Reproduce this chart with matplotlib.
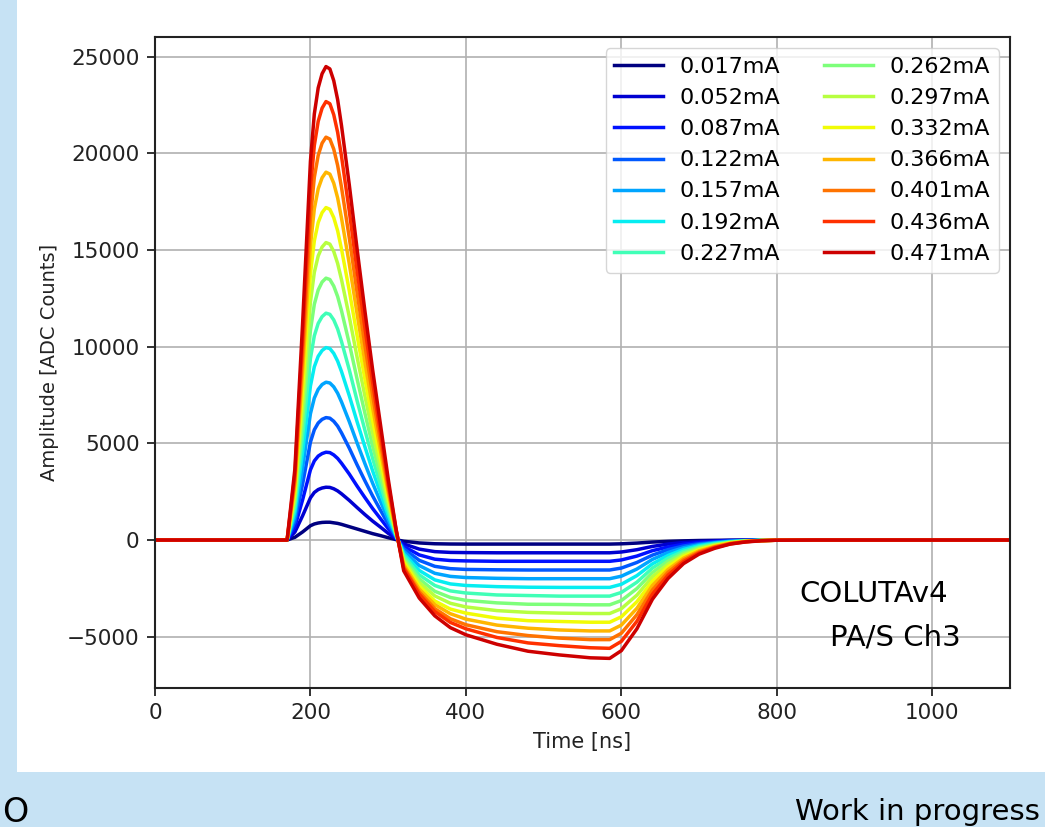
import matplotlib
matplotlib.use("Agg")
import matplotlib.pyplot as plt
import numpy as np
from matplotlib.patches import Rectangle

# sample times of the averaged pulses [ns]
time_ns = [0, 160, 170, 180, 190, 200, 205, 210, 215, 220, 225, 230, 235, 240,
           250, 260, 270, 280, 290, 300, 310,
           320, 340, 360, 380, 400, 440, 480, 520, 560, 585,
           600, 620, 640, 660, 680, 700, 720, 740, 760, 780, 800, 850, 1100]

# injected current for each pulse
currents = ["0.017mA", "0.052mA", "0.087mA", "0.122mA", "0.157mA", "0.192mA", "0.227mA",
            "0.262mA", "0.297mA", "0.332mA", "0.366mA", "0.401mA", "0.436mA", "0.471mA"]

# amplitude [ADC counts], one list per current
pulse_017 = [0, 0, 0, 140, 420, 740, 830, 880, 910, 920, 920, 890, 860, 810,
             690, 570, 450, 330, 230, 120, 20,
             -63, -151, -193, -206, -210, -210, -210, -210, -210, -210,
             -196, -158, -105, -68, -42, -25, -15, -7, -3, -1, 0, 0, 0]
pulse_052 = [0, 0, 0, 410, 1260, 2180, 2460, 2610, 2690, 2730, 2720, 2650, 2540, 2390,
             2050, 1680, 1320, 980, 670, 350, 70,
             -200, -470, -600, -640, -650, -660, -660, -660, -660, -660,
             -620, -500, -330, -210, -130, -80, -50, -20, -10, 0, 0, 0, 0]
pulse_087 = [0, 0, 0, 680, 2090, 3630, 4090, 4340, 4470, 4540, 4520, 4400, 4220, 3970,
             3410, 2790, 2200, 1630, 1110, 590, 110,
             -330, -770, -990, -1060, -1080, -1100, -1100, -1100, -1100, -1100,
             -1030, -830, -550, -360, -220, -130, -80, -40, -20, -10, 0, 0, 0]
pulse_122 = [0, 0, 0, 950, 2910, 5060, 5700, 6050, 6240, 6330, 6300, 6140, 5890, 5540,
             4750, 3890, 3070, 2280, 1550, 820, 160,
             -450, -1050, -1360, -1480, -1520, -1540, -1550, -1550, -1550, -1550,
             -1450, -1160, -780, -500, -310, -190, -110, -50, -30, -10, 0, 0, 0]
pulse_157 = [0, 0, 0, 1220, 3750, 6530, 7340, 7790, 8040, 8160, 8120, 7920, 7590, 7140,
             6120, 5020, 3960, 2940, 2000, 1060, 200,
             -580, -1320, -1720, -1880, -1940, -1980, -2000, -2000, -2000, -2000,
             -1870, -1500, -1000, -650, -400, -240, -140, -70, -30, -10, 0, 0, 0]
pulse_192 = [0, 0, 0, 1490, 4580, 7960, 8960, 9500, 9800, 9950, 9900, 9650, 9250, 8710,
             7460, 6120, 4830, 3580, 2440, 1290, 250,
             -710, -1570, -2060, -2270, -2350, -2410, -2440, -2450, -2450, -2450,
             -2290, -1840, -1230, -800, -490, -290, -170, -90, -40, -20, -10, 0, 0]
pulse_227 = [0, 0, 0, 1760, 5400, 9380, 10560, 11200, 11550, 11730, 11670, 11380, 10910, 10260,
             8800, 7210, 5690, 4220, 2870, 1530, 290,
             -810, -1800, -2350, -2630, -2740, -2840, -2870, -2900, -2900, -2900,
             -2710, -2180, -1450, -940, -580, -350, -200, -100, -50, -20, -10, 0, 0]
pulse_262 = [0, 0, 0, 2030, 6230, 10830, 12190, 12930, 13340, 13540, 13470, 13130, 12590, 11850,
             10160, 8330, 6570, 4870, 3320, 1760, 340,
             -940, -2010, -2650, -2970, -3120, -3250, -3320, -3330, -3350, -3350,
             -3130, -2510, -1680, -1090, -670, -400, -240, -120, -50, -20, -10, 0, 0]
pulse_297 = [0, 0, 0, 2310, 7070, 12300, 13840, 14690, 15150, 15380, 15300, 14920, 14300, 13460,
             11540, 9460, 7460, 5540, 3770, 2000, 390,
             -1060, -2200, -2890, -3270, -3460, -3650, -3740, -3780, -3800, -3800,
             -3550, -2850, -1900, -1240, -760, -460, -270, -130, -60, -20, -10, 0, 0]
pulse_332 = [0, 0, 0, 2580, 7910, 13750, 15470, 16420, 16930, 17190, 17100, 16670, 15990, 15040,
             12890, 10570, 8340, 6190, 4210, 2240, 430,
             -1150, -2380, -3150, -3570, -3780, -4040, -4170, -4210, -4250, -4250,
             -3970, -3190, -2130, -1380, -850, -510, -300, -150, -70, -30, -10, 0, 0]
pulse_366 = [0, 0, 0, 2850, 8750, 15220, 17120, 18160, 18730, 19020, 18920, 18450, 17690, 16640,
             14270, 11700, 9220, 6850, 4660, 2470, 480,
             -1270, -2540, -3340, -3810, -4090, -4400, -4560, -4650, -4700, -4700,
             -4400, -3530, -2350, -1530, -940, -560, -330, -170, -80, -30, -10, 0, 0]
pulse_401 = [0, 0, 0, 3120, 9580, 16660, 18750, 19890, 20520, 20830, 20730, 20210, 19370, 18230,
             15620, 12810, 10100, 7500, 5100, 2710, 520,
             -1390, -2680, -3550, -4070, -4380, -4740, -4940, -5070, -5150, -5150,
             -4820, -3860, -2580, -1670, -1030, -620, -360, -180, -80, -30, -10, 0, 0]
pulse_436 = [0, 0, 0, 3400, 10430, 18140, 20400, 21650, 22330, 22670, 22560, 21990, 21080, 19840,
             17000, 13940, 11000, 8160, 5550, 2950, 570,
             -1460, -2800, -3700, -4260, -4590, -5040, -5320, -5460, -5570, -5600,
             -5240, -4200, -2800, -1820, -1120, -670, -390, -200, -90, -30, -10, 0, 0]
pulse_471 = [0, 0, 0, 3670, 11260, 19580, 22030, 23380, 24110, 24480, 24360, 23750, 22770, 21420,
             18360, 15060, 11870, 8810, 6000, 3180, 610,
             -1590, -3000, -3920, -4530, -4900, -5390, -5750, -5940, -6090, -6120,
             -5720, -4590, -3060, -1990, -1220, -730, -430, -210, -100, -40, -10, 0, 0]

pulses = [pulse_017, pulse_052, pulse_087, pulse_122, pulse_157, pulse_192, pulse_227,
          pulse_262, pulse_297, pulse_332, pulse_366, pulse_401, pulse_436, pulse_471]

fig = plt.figure(figsize=(10.45, 8.27), dpi=100, facecolor="#c6e2f4")
# white slide panel behind the plot
fig.patches.append(Rectangle((0.0163, 0.0665), 1.0, 1.0, transform=fig.transFigure,
                             facecolor="white", edgecolor="none", zorder=-10))

ax = fig.add_axes([0.1483, 0.1681, 0.8182, 0.7872])
ax.set_facecolor("white")
colors = plt.get_cmap("jet")(np.linspace(0, 0.93, len(pulses)))
for y, lab, c in zip(pulses, currents, colors):
    ax.plot(time_ns, y, color=c, lw=2.5, label=lab)

ax.set_xlim(0, 1100)
ax.set_xticks([0, 200, 400, 600, 800, 1000])
ax.set_yticks([-5000, 0, 5000, 10000, 15000, 20000, 25000])
ax.grid(True, color="#b0b0b0", lw=1.2)
ax.tick_params(labelsize=15.5, length=6, width=1.3, pad=5, colors="#222222")
for s in ax.spines.values():
    s.set_linewidth(1.5)
    s.set_color("#222222")
ax.set_xlabel("Time [ns]", fontsize=15, color="#222222", labelpad=6)
ax.set_ylabel("Amplitude [ADC Counts]", fontsize=14, color="#222222", labelpad=6)

ax.legend(ncol=2, loc="upper right", fontsize=16, handlelength=2.2, labelspacing=0.5,
          columnspacing=2.0, handletextpad=0.72)

ax.text(0.754, 0.145, "COLUTAv4", transform=ax.transAxes, fontsize=21, ha="left", va="center")
ax.text(0.789, 0.078, "PA/S Ch3", transform=ax.transAxes, fontsize=21, ha="left", va="center")

fig.text(0.995, 0.008, "Work in progress", fontsize=21, ha="right", va="baseline")
fig.text(0.002, 0.006, "O", fontsize=24, ha="left", va="baseline")

fig.savefig("out.png", dpi=100, facecolor=fig.get_facecolor())
